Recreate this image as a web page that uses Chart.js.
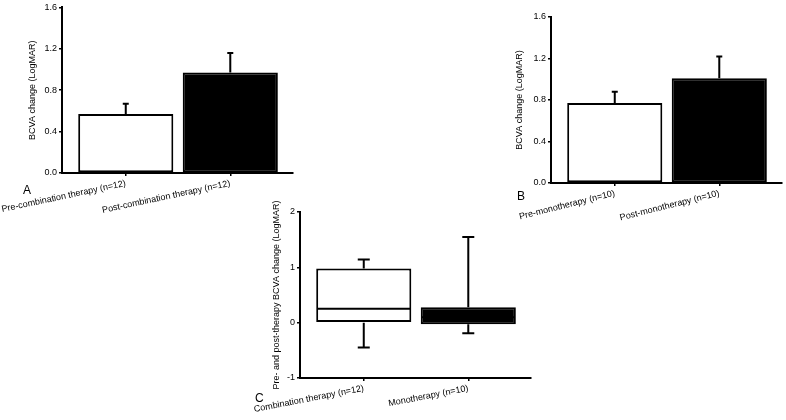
<!DOCTYPE html>
<html><head><meta charset="utf-8">
<script src="https://cdn.jsdelivr.net/npm/chart.js@4.4.1/dist/chart.umd.min.js"></script>
<style>
html,body{margin:0;padding:0;background:#fff;}
body{width:786px;height:420px;overflow:hidden;position:relative;font-family:"Liberation Sans",Arial,sans-serif;}
canvas{position:absolute;}
.lbl{position:absolute;font-size:12px;line-height:12px;color:#000;}
</style></head><body>
<canvas id="cA" width="300" height="215" style="left:0;top:0;width:300px;height:215px"></canvas>
<canvas id="cB" width="306" height="225" style="left:480px;top:0;width:306px;height:225px"></canvas>
<canvas id="cC" width="306" height="220" style="left:230px;top:200px;width:306px;height:220px"></canvas>
<div class="lbl" style="left:23px;top:184px">A</div>
<div class="lbl" style="left:517px;top:190px">B</div>
<div class="lbl" style="left:255px;top:392px">C</div>
<script>
// ---- data ----
const categoriesA = ['Pre-combination therapy (n=12)', 'Post-combination therapy (n=12)'];
const meanA = [0.57, 0.97];
const errA = [0.10, 0.19];

const categoriesB = ['Pre-monotherapy (n=10)', 'Post-monotherapy (n=10)'];
const meanB = [0.77, 1.01];
const errB = [0.11, 0.21];

const categoriesC = ['Combination therapy (n=12)', 'Monotherapy (n=10)'];
const minC = [-0.45, -0.19];
const q1C = [0.0, -0.03];
const medianC = [0.25, 0.10];
const q3C = [0.98, 0.28];
const maxC = [1.14, 1.55];

const yTicksAB = [0, 0.4, 0.8, 1.2, 1.6];
const yTicksC = [-1, 0, 1, 2];
const titleAB = 'BCVA change (LogMAR)';
const titleC = 'Pre- and post-therapy BCVA change (LogMAR)';
const barColors = ['#ffffff', '#000000'];

// ---- drawing ----
const FONT = 'Liberation Sans';

const errorBarPlugin = {
  id: 'errorBars',
  afterDatasetsDraw(chart, args, opts) {
    if (!opts || !opts.means) return;
    const {ctx, scales: {x, y}} = chart;
    ctx.save();
    ctx.strokeStyle = '#000';
    ctx.lineWidth = 2;
    opts.means.forEach((m, i) => {
      const px = x.getPixelForValue(i);
      const yb = y.getPixelForValue(m);
      const yt = y.getPixelForValue(m + opts.errs[i]);
      ctx.beginPath();
      ctx.moveTo(px, yb); ctx.lineTo(px, yt);
      ctx.moveTo(px - 3, yt); ctx.lineTo(px + 3, yt);
      ctx.stroke();
    });
    ctx.restore();
  }
};

const boxPlugin = {
  id: 'boxWhiskers',
  afterDatasetsDraw(chart, args, opts) {
    if (!opts || !opts.med) return;
    const {ctx, scales: {x, y}} = chart;
    const meta = chart.getDatasetMeta(0);
    ctx.save();
    ctx.strokeStyle = '#000';
    ctx.lineWidth = 2;
    opts.med.forEach((md, i) => {
      const px = x.getPixelForValue(i);
      const bar = meta.data[i];
      const half = bar.width / 2;
      const yMed = y.getPixelForValue(md);
      const yQ1 = y.getPixelForValue(opts.q1[i]);
      const yQ3 = y.getPixelForValue(opts.q3[i]);
      const yMin = y.getPixelForValue(opts.min[i]);
      const yMax = y.getPixelForValue(opts.max[i]);
      ctx.beginPath();
      ctx.moveTo(px - half + 1, yMed); ctx.lineTo(px + half - 1, yMed);
      ctx.moveTo(px, yQ3); ctx.lineTo(px, yMax);
      ctx.moveTo(px - 6, yMax); ctx.lineTo(px + 6, yMax);
      ctx.moveTo(px, yQ1); ctx.lineTo(px, yMin);
      ctx.moveTo(px - 6, yMin); ctx.lineTo(px + 6, yMin);
      ctx.stroke();
    });
    ctx.restore();
  }
};

function makeChart(id, p) {
  return new Chart(document.getElementById(id), {
    type: 'bar',
    data: {
      datasets: [{
        data: p.values.map((v, i) => ({x: i, y: v})),
        backgroundColor: barColors,
        borderColor: '#000',
        borderWidth: 2,
        borderSkipped: false,
        barPercentage: 0.91,
        categoryPercentage: 1
      }]
    },
    options: {
      responsive: false,
      animation: false,
      devicePixelRatio: 1,
      layout: {padding: p.pad},
      plugins: {
        legend: {display: false},
        tooltip: {enabled: false},
        errorBars: p.err || {},
        boxWhiskers: p.box || {}
      },
      scales: {
        x: {
          type: 'linear',
          min: -0.61, max: 1.6,
          offset: false,
          afterBuildTicks: s => { s.ticks = p.cats.map((c, i) => ({value: i})); },
          afterFit: s => { s.height = p.xHeight; s.paddingLeft = 0; s.paddingRight = 0; },
          ticks: {
            callback: (v, i) => p.cats[i],
            minRotation: p.rot, maxRotation: p.rot,
            autoSkip: false,
            padding: 2,
            color: '#000',
            font: {family: FONT, size: 9}
          },
          grid: {offset: false, drawOnChartArea: false, drawTicks: true, tickLength: 3, color: '#000', lineWidth: 1.5},
          border: {display: true, color: '#000', width: 2}
        },
        y: {
          min: p.yTicks[0], max: p.yTicks[p.yTicks.length - 1],
          afterBuildTicks: s => { s.ticks = p.yTicks.map(v => ({value: v})); },
          afterFit: s => { s.width = p.yWidth; },
          ticks: {
            callback: v => p.fmt(v),
            padding: 2,
            color: '#000',
            font: {family: FONT, size: 9}
          },
          title: {
            display: true,
            text: p.title,
            color: '#000',
            padding: {top: p.titlePad, bottom: 0},
            font: {family: FONT, size: 9}
          },
          grid: {offset: false, drawOnChartArea: false, drawTicks: true, tickLength: 3, color: '#000', lineWidth: 1.5},
          border: {display: true, color: '#000', width: 2}
        }
      }
    },
    plugins: [errorBarPlugin, boxPlugin]
  });
}

makeChart('cA', {
  cats: categoriesA, values: meanA, yTicks: yTicksAB, fmt: v => v.toFixed(1),
  title: titleAB, pad: {left: 0, top: 7, right: 7, bottom: 0}, yWidth: 62, xHeight: 42,
  titlePad: 27.6, rot: 12, err: {means: meanA, errs: errA}
});
makeChart('cB', {
  cats: categoriesB, values: meanB, yTicks: yTicksAB, fmt: v => v.toFixed(1),
  title: titleAB, pad: {left: 0, top: 17, right: 4, bottom: 0}, yWidth: 71, xHeight: 42,
  titlePad: 34.6, rot: 14, err: {means: meanB, errs: errB}
});
makeChart('cC', {
  cats: categoriesC, values: q1C.map((q, i) => [q, q3C[i]]), yTicks: yTicksC, fmt: v => String(v),
  title: titleC, pad: {left: 0, top: 12, right: 5, bottom: 0}, yWidth: 70, xHeight: 42,
  titlePad: 41.6, rot: 11, box: {min: minC, q1: q1C, med: medianC, q3: q3C, max: maxC}
});
</script>
</body></html>
